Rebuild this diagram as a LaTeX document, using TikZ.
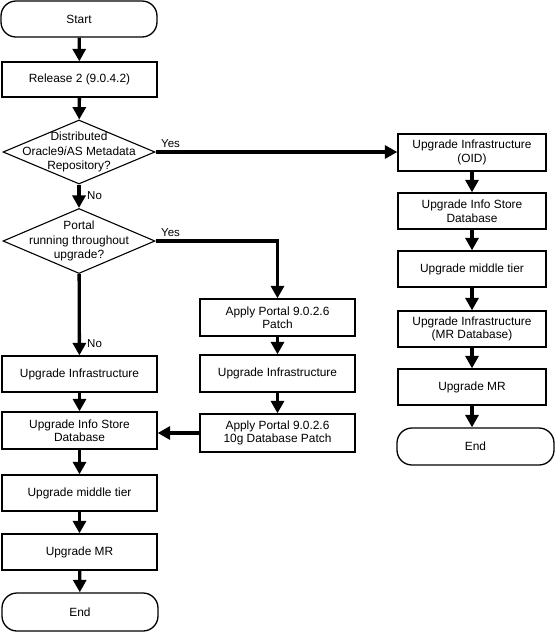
\documentclass[tikz,border=0pt]{standalone}
\usepackage{fontspec}
\setmainfont{Liberation Sans}
\usetikzlibrary{shapes.geometric,arrows.meta}
\tikzset{
  box/.style={draw, line width=1.3pt, minimum width=155pt, minimum height=36pt, inner sep=0pt, align=center, font=\fontsize{11.9}{13.5}\selectfont},
  rbox/.style={box, minimum width=148pt},
  term/.style={box, rounded corners=15pt},
  dia/.style={draw, diamond, line width=1.1pt, minimum width=152pt, minimum height=64pt, inner sep=0pt},
  dtext/.style={align=center, font=\fontsize{11.9}{14.5}\selectfont, inner sep=0pt},
  arr/.style={line width=3.3pt, -{Triangle[length=12.5pt,width=13pt]}},
  lbl/.style={font=\fontsize{11.5}{13}\selectfont, inner sep=0pt, anchor=west}
}
\begin{document}
\begin{tikzpicture}[x=1pt,y=-1pt]
\useasboundingbox (0,0) rectangle (555,633);
% left column
\node[term, minimum width=156pt] (start) at (79,19) {Start};
\node[box, minimum height=35pt] (rel) at (79.5,79.5) {Release 2 (9.0.4.2)};
\node[dia] (d1) at (79,152) {};
\node[dtext] (d1t) at (79,152) {Distributed\\Oracle9\textit{i}AS Metadata\\Repository?};
\node[dia, minimum height=65pt] (d2) at (79,241) {};
\node[dtext] (d2t) at (79,241) {Portal\\running throughout\\upgrade?};
\node[box] (linfra) at (79.5,374) {Upgrade Infrastructure};
\node[box, minimum height=37pt] (linfo) at (79.5,430.5) {Upgrade Info Store\\Database};
\node[box] (lmid) at (79.5,493) {Upgrade middle tier};
\node[box] (lmr) at (79.5,552) {Upgrade MR};
\node[term, minimum width=156pt, minimum height=38pt] (lend) at (80,612) {End};
% middle column
\node[box, minimum height=37pt] (mpatch) at (277.5,317.5) {Apply Portal 9.0.2.6\\Patch};
\node[box, minimum height=37pt] (minfra) at (277.5,373.5) {Upgrade Infrastructure};
\node[box, minimum height=38pt] (mdb) at (277.5,433) {Apply Portal 9.0.2.6\\10g Database Patch};
% right column
\node[rbox, minimum height=37pt] (roid) at (472,152.5) {Upgrade Infrastructure\\(OID)};
\node[rbox] (rinfo) at (472,211) {Upgrade Info Store\\Database};
\node[rbox] (rmid) at (472,269) {Upgrade middle tier};
\node[rbox] (rmrdb) at (472,329) {Upgrade Infrastructure\\(MR Database)};
\node[rbox] (rmr) at (472,387) {Upgrade MR};
\node[term, minimum width=157pt, minimum height=37pt] (rend) at (475.5,446.5) {End};
% connectors
\draw[arr] (start) -- (rel);
\draw[arr] (rel) -- (d1);
\draw[arr] (d1.east) -- (d1.east -| roid.west);
\draw[arr] (d1) -- (d2);
\draw[arr] (d2.east) -| (mpatch.north);
\draw[arr] (d2) -- (linfra);
\draw[arr] (linfra) -- (linfo);
\draw[arr] (linfo) -- (lmid);
\draw[arr] (lmid) -- (lmr);
\draw[arr] (lmr) -- (lend);
\draw[arr] (mpatch) -- (minfra);
\draw[arr] (minfra) -- (mdb);
\draw[arr] (mdb.west) -- (mdb.west -| linfo.east);
\draw[arr] (roid) -- (rinfo);
\draw[arr] (rinfo) -- (rmid);
\draw[arr] (rmid) -- (rmrdb);
\draw[arr] (rmrdb) -- (rmr);
\draw[arr] (rmr) -- (rend.north -| rmr.south);
% labels
\node[lbl] (y1) at (161,144) {Yes};
\node[lbl] (y2) at (161,233) {Yes};
\node[lbl] (n1) at (87,196) {No};
\node[lbl] (n2) at (87,344) {No};
\end{tikzpicture}
\end{document}
